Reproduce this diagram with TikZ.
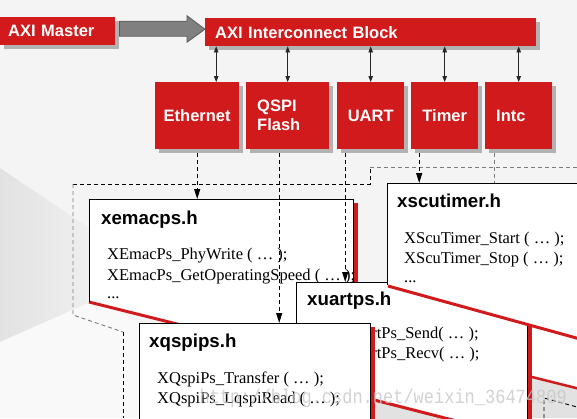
\documentclass[tikz,border=0pt]{standalone}
\usepackage{fontspec}
\setmainfont{Liberation Serif}
\newfontfamily\arialf{Liberation Sans}
\newfontfamily\monof{Liberation Mono}
\usetikzlibrary{arrows.meta,calc,shadows}
\definecolor{axired}{RGB}{208,26,27}
\definecolor{bgc}{RGB}{244,244,244}
\definecolor{wedgea}{RGB}{226,226,226}
\definecolor{wedgeb}{RGB}{240,240,240}
\definecolor{shadowc}{RGB}{178,178,178}
\definecolor{greyfill}{RGB}{226,226,226}
\definecolor{arrowfill}{RGB}{128,128,128}
\definecolor{arrowedge}{RGB}{90,90,90}
\definecolor{dashgrey}{RGB}{125,125,125}
\tikzset{
  redbox/.style={fill=axired, text=white, font=\arialf\bfseries\fontsize{16.5}{19}\selectfont,
    inner ysep=0pt, anchor=north west,
    drop shadow={shadow xshift=4pt, shadow yshift=-4pt, fill=shadowc, opacity=1}},
  busarrow/.style={{Triangle[length=6pt,width=4.5pt]}-{Triangle[length=6pt,width=4.5pt]}, draw=black!85, line width=0.8pt},
  dashline/.style={dash pattern=on 4pt off 3pt, line width=0.9pt},
  dasharrow/.style={dashline, -{Triangle[length=10pt,width=6pt]}},
  pagebox/.style={inner sep=0pt, anchor=north west},
  pagetitle/.style={font=\arialf\bfseries\fontsize{18.7}{22}\selectfont, anchor=base west, inner sep=0pt},
  pagebody/.style={font=\fontsize{16.5}{20}\selectfont, anchor=base west, inner sep=0pt},
  rededge/.style={draw=axired, line width=3pt},
  pageedge/.style={draw=black, line width=1pt},
}
\begin{document}
\begin{tikzpicture}[x=1pt,y=-1pt]
\useasboundingbox (0,0) rectangle (577,418);
\clip (0,0) rectangle (577,418);
% background
\fill[bgc] (0,0) rectangle (577,418);
\shade[left color=wedgea, right color=wedgeb] (0,168) -- (95,232) -- (95,300) -- (0,342) -- cycle;
\fill[white, opacity=0.5] (0,342) -- (95,300) -- (139,323) -- (139,418) -- (0,418) -- cycle;

% invisible page nodes (targets)
\node[pagebox, minimum width=264pt, minimum height=103pt] (xemacps) at (89,199) {};
\node[pagebox, minimum width=231pt, minimum height=100pt] (xqspips) at (139,323) {};
\node[pagebox, minimum width=231pt, minimum height=157pt] (xuartps) at (296,282) {};
\node[pagebox, minimum width=193pt, minimum height=102pt] (xscutimer) at (387,183) {};

% group outline
\draw[dashline, black] (73,184) -- (370,184) -- (370,167);
\draw[dashline, dashgrey] (370,167) -- (577,167);
\draw[dashline, dashgrey] (73,184) -- (73,315) -- (123,332);
\draw[dashline, black] (123,332) -- (123,418);

% red blocks
\node[redbox, minimum width=115pt, minimum height=28pt, inner xsep=8pt, text width=99pt, align=left] (master) at (0,17) {AXI Master};
\node[redbox, minimum width=331pt, minimum height=28pt, inner xsep=10pt, text width=311pt, align=left] (inter) at (205,18) {AXI Interconnect Block};
\node[redbox, minimum width=84pt, minimum height=67pt, inner xsep=0pt, text width=84pt, align=center] (eth) at (155,82) {Ethernet};
\node[redbox, minimum width=83pt, minimum height=67pt, inner xsep=11pt, text width=61pt, align=left] (qspi) at (246,82) {QSPI\\Flash};
\node[redbox, minimum width=67pt, minimum height=67pt, inner xsep=0pt, text width=67pt, align=center] (uart) at (337,82) {UART};
\node[redbox, minimum width=67pt, minimum height=67pt, inner xsep=0pt, text width=67pt, align=center] (timer) at (411,82) {Timer};
\node[redbox, minimum width=67pt, minimum height=67pt, inner xsep=11pt, text width=45pt, align=left] (intc) at (485,82) {Intc};

% grey arrow master -> interconnect
\filldraw[fill=arrowfill, draw=arrowedge, line width=0.8pt]
  ($(master.east)+(4,-10)$) -- ($(inter.west)+(-18,-11)$) -- ($(inter.west)+(-18,-16.5)$)
  -- ($(inter.west)+(0,-3)$) -- ($(inter.west)+(-18,10)$) -- ($(inter.west)+(-18,4)$)
  -- ($(master.east)+(4,5)$) -- cycle;

% bus arrows
\draw[busarrow] ($(eth.north)+(19,0)$) coordinate (e0) -- (e0 |- inter.south);
\draw[busarrow] (qspi.north) -- (qspi.north |- inter.south);
\draw[busarrow] (uart.north) -- (uart.north |- inter.south);
\draw[busarrow] (timer.north) -- (timer.north |- inter.south);
\draw[busarrow] (intc.north) -- (intc.north |- inter.south);

% Intc dashed (behind timer page)
\draw[dashline, dashgrey] ($(intc.south)+(-24.5,4)$) coordinate (i0) -- (i0 |- xscutimer.north);

% far right page
\fill[white] (520,290) -- (577,290) -- (577,388) -- (532,377) -- cycle;
\fill[greyfill] (532,377) -- (577,388) -- (577,418) -- (532,418) -- cycle;
\draw[dashline] (544,418) -- (544,398) -- (577,407);
\draw[rededge, line width=2.5pt] (532,377) -- (580,389);

% xemacps page
\fill[white] (89,199) -- (353,199) -- (353,368) -- (89,302) -- cycle;
\fill[axired] (353,203) rectangle (358,370);
\draw[rededge] (89,302) -- (353,368);
\draw[pageedge] (89,302) -- (89,199) -- (353,199) -- (353,368);
\node[pagetitle] (t1) at (101,224) {xemacps.h};
\node[pagebody] (b1a) at (107,259) {XEmacPs\_PhyWrite ( … );};
\node[pagebody] (b1b) at (107,280) {XEmacPs\_GetOperatingSpeed ( … );};
\node[pagebody] (b1c) at (107,298) {...};

% dashed connectors
\draw[dasharrow] ($(eth.south)+(0,4)$) coordinate (e1) -- (e1 |- xemacps.north);
\draw[dasharrow] ($(qspi.south)+(-8.5,4)$) coordinate (q1) -- (q1 |- xqspips.north);
\draw[dasharrow] ($(uart.south)+(-25.5,4)$) coordinate (u1) -- (u1 |- xuartps.north);
\draw[dasharrow] ($(timer.south)+(-25.5,4)$) coordinate (m1) -- (m1 |- xscutimer.north);

% xuartps page
\fill[white] (296,282) -- (527,282) -- (527,439) -- (296,380) -- cycle;
\fill[greyfill] (296,380) -- (527,439) -- (296,439) -- cycle;
\fill[axired] (527,284) rectangle (532,440);
\draw[rededge] (296,380) -- (527,439);
\draw[pageedge] (296,380) -- (296,282) -- (527,282) -- (527,439);
\node[pagetitle] (t3) at (307,305) {xuartps.h};
\node[pagebody] (b3a) at (340,338) {XUartPs\_Send( … );};
\node[pagebody] (b3b) at (340,358) {XUartPs\_Recv( … );};

% xqspips page
\fill[white] (139,323) rectangle (370,422);
\fill[axired] (370,327) rectangle (375,422);
\draw[pageedge] (139,422) -- (139,323) -- (370,323) -- (370,422);
\node[pagetitle] (t2) at (149,347) {xqspips.h};
\node[pagebody] (b2a) at (157,383) {XQspiPs\_Transfer ( … );};
\node[pagebody] (b2b) at (157,403) {XQspiPs\_LqspiRead ( … );};

% xscutimer page
\fill[white] (387,183) -- (580,183) -- (580,340) -- (387,285) -- cycle;
\draw[rededge] (388,286) -- (580,339);
\draw[pageedge] (387,285) -- (387,183) -- (580,183);
\node[pagetitle] (t4) at (397,207) {xscutimer.h};
\node[pagebody] (b4a) at (404,243) {XScuTimer\_Start ( … );};
\node[pagebody] (b4b) at (404,263) {XScuTimer\_Stop ( … );};
\node[pagebody] (b4c) at (404,282) {...};

% watermark
\node[anchor=base east, text=black!22, opacity=0.8, inner sep=0pt, font=\monof\fontsize{20}{20}\selectfont] (wm) at (567,403) {\scalebox{0.85}[1]{http://blog.csdn.net/weixin\_36474809}};
\end{tikzpicture}
\end{document}
